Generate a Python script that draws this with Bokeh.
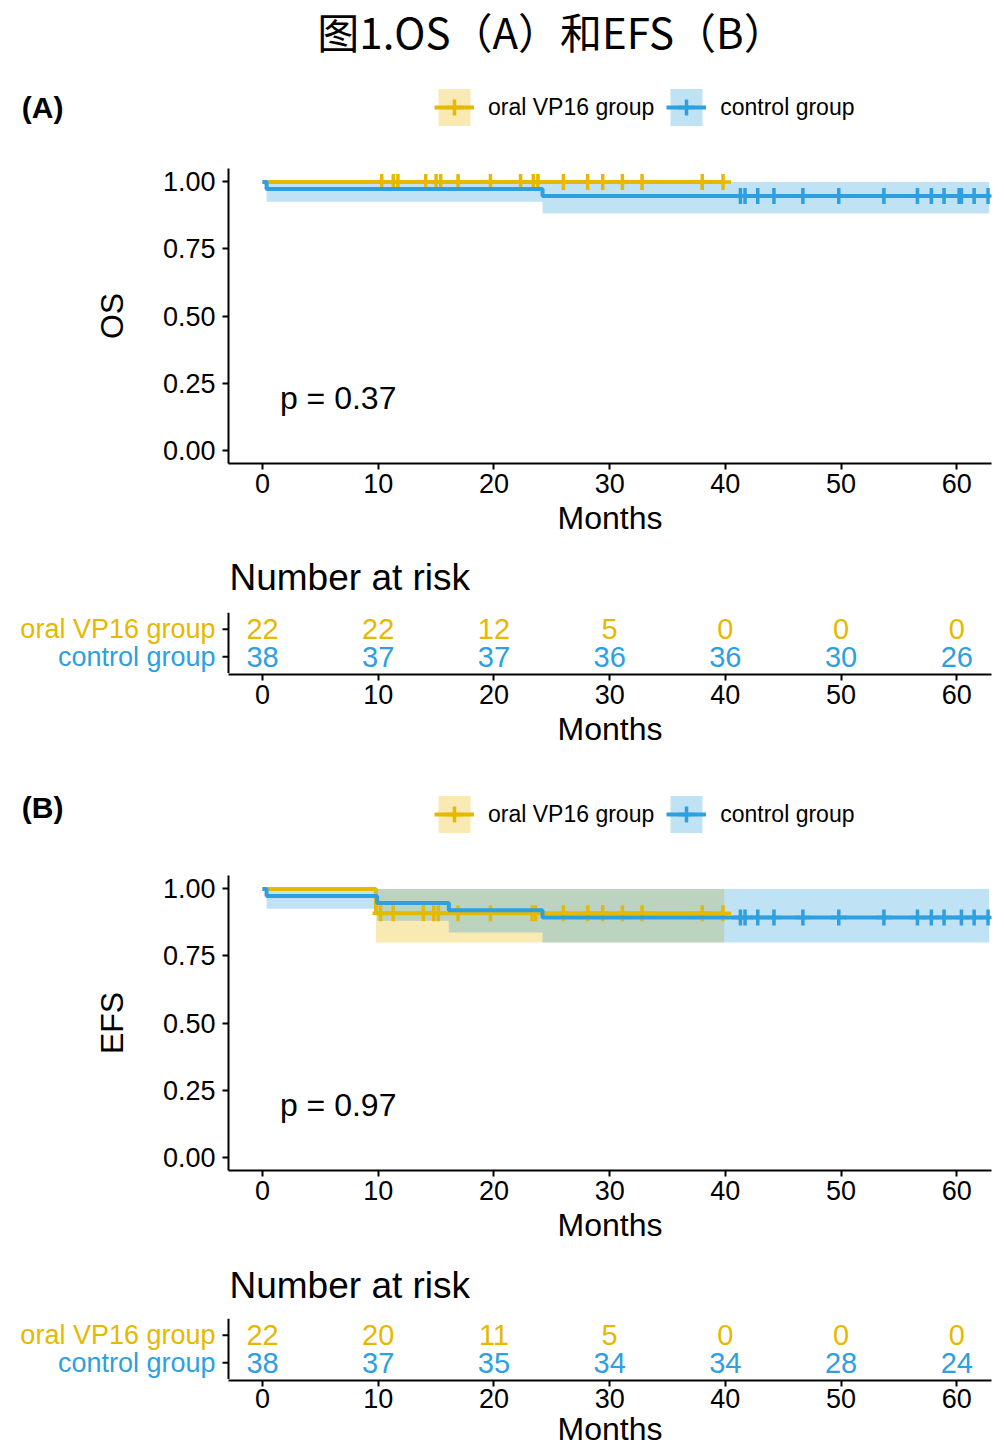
from bokeh.plotting import figure
from bokeh.models import (Range1d, FixedTicker, NumeralTickFormatter, Legend, LegendItem, Label,
                          Span)
from bokeh.layouts import column
from bokeh.embed import file_html
from bokeh.resources import INLINE
from bokeh.core.properties import value

# ---------------- data ----------------
TITLE = "图1.OS（A）和EFS（B）"
GROUPS = ["oral VP16 group", "control group"]
COLORS = ["#E7B800", "#2E9FDF"]
MONTH_TICKS = [0, 10, 20, 30, 40, 50, 60]
SURV_TICKS = [0.0, 0.25, 0.5, 0.75, 1.0]

# OS (A)
os_oral_time = [0, 39.9]
os_oral_surv = [1.0, 1.0]
os_oral_lower = [1.0, 1.0]
os_oral_upper = [1.0, 1.0]
os_oral_censor = [10.3, 11.3, 11.7, 14.1, 15.0, 15.4, 16.9, 19.7, 22.3, 23.4, 23.8,
                  26.0, 28.1, 29.4, 31.1, 32.8, 38.0, 39.8]
os_ctrl_time = [0, 0.35, 24.2, 62.8]
os_ctrl_surv = [1.0, 0.974, 0.947, 0.947]
os_ctrl_lower = [1.0, 0.926, 0.882, 0.882]
os_ctrl_upper = [1.0, 1.0, 1.0, 1.0]
os_ctrl_censor = [41.3, 41.7, 42.8, 44.2, 46.7, 49.8, 53.7, 56.6, 57.8, 58.9, 60.2,
                  60.4, 61.5, 62.7]
os_risk_oral = [22, 22, 12, 5, 0, 0, 0]
os_risk_ctrl = [38, 37, 37, 36, 36, 30, 26]
os_pval = "p = 0.37"

# EFS (B)
efs_oral_time = [0, 9.8, 39.9]
efs_oral_surv = [1.0, 0.909, 0.909]
efs_oral_lower = [1.0, 0.80, 0.80]
efs_oral_upper = [1.0, 1.0, 1.0]
efs_oral_censor = [10.2, 11.3, 13.9, 14.8, 15.2, 16.9, 19.7, 23.3, 23.6, 26.0, 28.1,
                   29.4, 31.1, 32.8, 38.0, 39.8]
efs_ctrl_time = [0, 0.35, 9.9, 16.1, 24.2, 62.8]
efs_ctrl_surv = [1.0, 0.974, 0.947, 0.920, 0.893, 0.893]
efs_ctrl_lower = [1.0, 0.926, 0.881, 0.837, 0.80, 0.80]
efs_ctrl_upper = [1.0, 1.0, 1.0, 1.0, 1.0, 1.0]
efs_ctrl_censor = [41.3, 41.7, 42.8, 44.2, 46.7, 49.8, 53.7, 56.6, 57.8, 58.9, 60.4,
                   61.5, 62.7]
efs_risk_oral = [22, 20, 11, 5, 0, 0, 0]
efs_risk_ctrl = [38, 37, 35, 34, 34, 28, 24]
efs_pval = "p = 0.97"

FONT = "Liberation Sans"
W = 996
LEFT = 228
RIGHT = W - 991
XR = (-2.94, 63.0)
PX = (991 - LEFT) / (XR[1] - XR[0])   # pixels per month
RISK_ROWS = [2, 1]   # oral on top, control below


def surv_at(times, surv, t):
    s = surv[0]
    for ti, si in zip(times, surv):
        if ti <= t:
            s = si
    return s


def blank(p):
    p.xgrid.visible = False
    p.ygrid.visible = False
    p.outline_line_color = None
    p.background_fill_color = "white"
    p.border_fill_color = "white"


def style_axis(ax):
    ax.axis_line_width = 2
    ax.axis_line_color = "black"
    ax.major_tick_line_width = 2
    ax.major_tick_line_color = "black"
    ax.major_tick_out = 6
    ax.major_tick_in = 0
    ax.minor_tick_line_color = None
    ax.major_label_text_font = FONT
    ax.major_label_text_font_size = "27px"
    ax.major_label_text_color = "black"
    ax.axis_label_text_font = FONT
    ax.axis_label_text_font_size = "32px"
    ax.axis_label_text_font_style = "normal"
    ax.axis_label_text_color = "black"


def style_xaxis(p, label_standoff=4, title_standoff=4):
    ax = p.xaxis[0]
    style_axis(ax)
    ax.ticker = FixedTicker(ticks=MONTH_TICKS)
    ax.axis_label = "Months"
    ax.major_label_standoff = label_standoff
    ax.axis_label_standoff = title_standoff


def add_series(p, series):
    bands, lines, marks = [], [], []
    for (t, s, lo, up, cens), col in zip(series, COLORS):
        bands.append(p.varea_step(x=t, y1=lo, y2=up, step_mode="after",
                                  fill_color=col, fill_alpha=0.3))
    for (t, s, lo, up, cens), col in zip(series, COLORS):
        lines.append(p.step(x=t, y=s, mode="after", line_color=col, line_width=4))
        cy = [surv_at(t, s, c) for c in cens]
        marks.append(p.scatter(x=cens, y=cy, marker="cross", size=16, line_width=3.5,
                               line_color=col))
    return bands, lines, marks


def header_fig(height, series, panel_label, label_from_top):
    # strip above each survival plot: panel letter (as a y tick label) + legend.
    # The group curves sit far below this strip's y-range; they only feed the legend keys.
    base = 1000
    p = figure(width=W, height=height, x_range=Range1d(*XR),
               y_range=Range1d(base + height, base),
               output_backend="svg", toolbar_location=None, title=None,
               x_axis_location=None, min_border=0, min_border_left=LEFT,
               min_border_right=RIGHT)
    blank(p)
    ay = p.yaxis[0]
    ay.ticker = FixedTicker(ticks=[base + label_from_top])
    ay.major_label_overrides = {base + label_from_top: panel_label}
    ay.axis_line_color = None
    ay.major_tick_line_color = None
    ay.minor_tick_line_color = None
    ay.major_tick_out = 0
    ay.major_tick_in = 0
    ay.major_label_standoff = LEFT - 63
    ay.major_label_text_font = FONT
    ay.major_label_text_font_style = "bold"
    ay.major_label_text_font_size = "30px"
    ay.major_label_text_color = "black"

    bands, lines, marks = add_series(p, series)
    items = [LegendItem(label=g, renderers=[b, l, m])
             for g, b, l, m in zip(GROUPS, bands, lines, marks)]
    leg = Legend(items=items, orientation="horizontal", location=(434 - LEFT, 38),
                 glyph_width=40, glyph_height=46, label_standoff=14, spacing=12,
                 padding=0, margin=0, border_line_color=None, background_fill_alpha=0,
                 label_text_font=FONT, label_text_font_size="23px", label_text_color="black")
    p.add_layout(leg)
    return p


def km_fig(ylab, series, pval):
    p = figure(width=W, height=377, x_range=Range1d(*XR), y_range=Range1d(-0.05, 1.05),
               output_backend="svg", toolbar_location=None, title=None,
               min_border_left=LEFT, min_border_right=RIGHT, min_border_top=0,
               min_border_bottom=82)
    blank(p)
    style_xaxis(p)
    ay = p.yaxis[0]
    style_axis(ay)
    ay.ticker = FixedTicker(ticks=SURV_TICKS)
    ay.formatter = NumeralTickFormatter(format="0.00")
    ay.axis_label = ylab
    ay.major_label_standoff = 7
    ay.axis_label_standoff = 30
    add_series(p, series)
    p.add_layout(Label(x=1.5, y=0.196, text=pval, text_font=FONT, text_font_size="32px",
                       text_color="black", text_baseline="middle", text_align="left"))
    return p


def text_fig(height, text, x, y_from_top, size, align="left", font=FONT):
    p = figure(width=W, height=height, x_range=Range1d(0, 1), y_range=Range1d(0, 1),
               output_backend="svg", toolbar_location=None, title=None,
               x_axis_location=None, y_axis_location=None, min_border=0,
               min_border_left=LEFT, min_border_right=RIGHT)
    blank(p)
    p.add_layout(Label(x=x - LEFT, y=height - y_from_top, x_units="screen", y_units="screen",
                       text=text, text_font=font, text_font_size=size, text_color="black",
                       text_align=align, text_baseline="middle"))
    return p


def risk_table(top, risks):
    """Risk table body in one frame that reaches the left page edge, so the coloured
    group names can sit left of the table's own axis line."""
    xl = XR[0] - LEFT / PX
    p = figure(width=W, height=top + 61, x_range=Range1d(xl, XR[1]),
               y_range=Range1d(0.4, 2.6),
               output_backend="svg", toolbar_location=None, title=None,
               x_axis_location=None, y_axis_location=None, frame_align=False,
               min_border_left=0, min_border_right=RIGHT, min_border_top=top,
               min_border_bottom=0)
    blank(p)
    p.add_layout(Span(location=XR[0], dimension="height", line_color="black", line_width=2))
    p.segment(x0=[XR[0] - 6 / PX] * 2, x1=[XR[0]] * 2, y0=RISK_ROWS, y1=RISK_ROWS,
              line_color="black", line_width=2)
    p.text(x=[XR[0] - 13 / PX] * 2, y=RISK_ROWS, text=GROUPS, text_color=COLORS,
           text_align="right", text_baseline="middle", text_font=value(FONT),
           text_font_size="27px")
    for risk, row, col in zip(risks, RISK_ROWS, COLORS):
        p.text(x=MONTH_TICKS, y=[row] * len(MONTH_TICKS), text=[str(v) for v in risk],
               text_align="center", text_baseline="middle", text_font=value(FONT),
               text_font_size="29px", text_color=col)
    return p


def risk_axis(bottom, ls=4, ts=4):
    """Months axis under the risk table (frame aligned with the survival plots)."""
    p = figure(width=W, height=1 + bottom, x_range=Range1d(*XR), y_range=Range1d(0, 1),
               output_backend="svg", toolbar_location=None, title=None,
               y_axis_location=None, min_border_left=LEFT, min_border_right=RIGHT,
               min_border_top=0, min_border_bottom=bottom)
    blank(p)
    style_xaxis(p, ls, ts)
    return p


os_series = [
    (os_oral_time, os_oral_surv, os_oral_lower, os_oral_upper, os_oral_censor),
    (os_ctrl_time, os_ctrl_surv, os_ctrl_lower, os_ctrl_upper, os_ctrl_censor),
]
efs_series = [
    (efs_oral_time, efs_oral_surv, efs_oral_lower, efs_oral_upper, efs_oral_censor),
    (efs_ctrl_time, efs_ctrl_surv, efs_ctrl_lower, efs_ctrl_upper, efs_ctrl_censor),
]

pt = text_fig(62, TITLE, 551, 30, "42px", align="center", font="Noto Sans CJK SC")
ha = header_fig(106, os_series, "(A)", 45)
ka = km_fig("OS", os_series, os_pval)
na = text_fig(55, "Number at risk", 229, 32, "37px")
ra = risk_table(12, (os_risk_oral, os_risk_ctrl))
rax = risk_axis(86)
hb = header_fig(115, efs_series, "(B)", 47)
kb = km_fig("EFS", efs_series, efs_pval)
nb = text_fig(55, "Number at risk", 229, 33, "37px")
rb = risk_table(11, (efs_risk_oral, efs_risk_ctrl))
rbx = risk_axis(69, ls=2, ts=0)

layout = column(pt, ha, ka, na, ra, rax, hb, kb, nb, rb, rbx, spacing=0)
open("out.html", "w").write(file_html(layout, INLINE))
